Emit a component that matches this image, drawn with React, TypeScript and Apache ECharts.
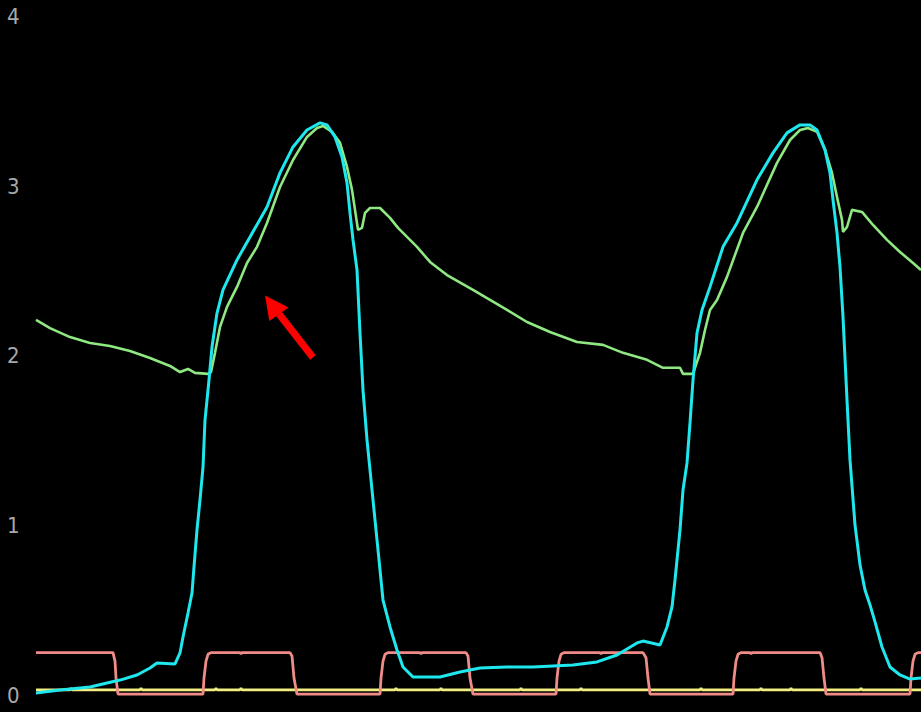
import React, { useEffect, useRef } from "react";
import * as echarts from "echarts";

// x positions are sample indices (time axis), y values in volts
const yTicks = [0, 1, 2, 3, 4];

const greenX = [36, 50, 70, 90, 110, 130, 150, 170, 180, 188, 195, 208, 211, 215, 220, 227, 237, 247, 257, 267, 280, 293, 307, 317, 323, 332, 340, 347, 352, 355, 358, 362, 365, 370, 380, 390, 398, 417, 430, 447, 473, 490, 507, 527, 550, 577, 603, 623, 647, 663, 680, 683, 693, 700, 705, 710, 717, 727, 743, 757, 777, 790, 800, 808, 817, 825, 832, 837, 842, 843, 847, 852, 862, 873, 887, 900, 913, 921];
const greenY = [2.211, 2.163, 2.11, 2.075, 2.058, 2.028, 1.987, 1.94, 1.904, 1.922, 1.899, 1.893, 1.904, 2.017, 2.17, 2.288, 2.406, 2.547, 2.642, 2.783, 2.995, 3.154, 3.29, 3.343, 3.355, 3.32, 3.255, 3.113, 2.978, 2.86, 2.742, 2.754, 2.842, 2.871, 2.871, 2.813, 2.754, 2.642, 2.553, 2.476, 2.388, 2.329, 2.27, 2.199, 2.14, 2.081, 2.064, 2.017, 1.976, 1.929, 1.929, 1.893, 1.893, 2.017, 2.152, 2.27, 2.329, 2.465, 2.724, 2.877, 3.137, 3.272, 3.331, 3.343, 3.32, 3.214, 3.078, 2.936, 2.801, 2.73, 2.759, 2.86, 2.848, 2.771, 2.683, 2.612, 2.547, 2.506];

const cyanX = [36, 60, 90, 107, 120, 137, 150, 157, 175, 180, 183, 188, 192, 194, 197, 200, 203, 205, 209, 212, 217, 223, 237, 250, 267, 280, 293, 307, 320, 327, 335, 342, 347, 350, 353, 357, 360, 363, 367, 372, 377, 383, 390, 397, 403, 413, 440, 460, 480, 507, 533, 553, 573, 597, 617, 637, 643, 660, 667, 672, 675, 680, 683, 687, 690, 693, 697, 702, 710, 723, 737, 757, 773, 787, 800, 810, 817, 825, 830, 833, 837, 840, 843, 847, 850, 855, 860, 865, 870, 875, 882, 890, 900, 910, 921];
const cyanY = [0.012, 0.029, 0.047, 0.071, 0.088, 0.118, 0.159, 0.189, 0.183, 0.248, 0.342, 0.483, 0.601, 0.755, 0.973, 1.15, 1.344, 1.621, 1.857, 2.052, 2.252, 2.388, 2.565, 2.7, 2.877, 3.078, 3.231, 3.331, 3.373, 3.361, 3.29, 3.172, 3.019, 2.842, 2.683, 2.506, 2.134, 1.798, 1.504, 1.209, 0.914, 0.56, 0.401, 0.265, 0.165, 0.106, 0.106, 0.136, 0.159, 0.165, 0.165, 0.171, 0.177, 0.195, 0.236, 0.307, 0.318, 0.295, 0.401, 0.519, 0.678, 0.973, 1.209, 1.368, 1.604, 1.857, 2.134, 2.27, 2.406, 2.642, 2.783, 3.037, 3.196, 3.314, 3.361, 3.361, 3.331, 3.214, 3.078, 2.919, 2.724, 2.524, 2.229, 1.739, 1.386, 1.003, 0.767, 0.619, 0.531, 0.431, 0.283, 0.165, 0.118, 0.094, 0.1];

const salmonX = [36, 60, 85, 113, 115, 116, 118, 203, 204, 206, 208, 211, 240, 241, 242, 290, 292, 294, 297, 380, 381, 383, 385, 388, 420, 421, 422, 466, 468, 470, 473, 556, 557, 559, 561, 564, 600, 601, 602, 643, 646, 648, 650, 733, 734, 736, 738, 741, 750, 751, 752, 820, 822, 824, 826, 910, 911, 913, 915, 918, 921];
const salmonY = [0.25, 0.25, 0.25, 0.25, 0.2, 0.1, 0.005, 0.005, 0.1, 0.2, 0.24, 0.25, 0.25, 0.243, 0.25, 0.25, 0.23, 0.1, 0.005, 0.005, 0.1, 0.2, 0.24, 0.25, 0.25, 0.243, 0.25, 0.25, 0.23, 0.1, 0.005, 0.005, 0.1, 0.2, 0.24, 0.25, 0.25, 0.243, 0.25, 0.25, 0.22, 0.1, 0.005, 0.005, 0.1, 0.2, 0.24, 0.25, 0.25, 0.243, 0.25, 0.25, 0.22, 0.1, 0.005, 0.005, 0.1, 0.2, 0.24, 0.25, 0.25];

const yellowX = [36, 70, 71, 72, 140, 141, 142, 215, 216, 217, 240, 241, 242, 395, 396, 397, 440, 441, 442, 520, 521, 522, 580, 581, 582, 700, 701, 702, 760, 761, 762, 790, 791, 792, 860, 861, 862, 921];
const yellowY = [0.03, 0.03, 0.04, 0.03, 0.03, 0.04, 0.03, 0.03, 0.04, 0.03, 0.03, 0.04, 0.03, 0.03, 0.04, 0.03, 0.03, 0.04, 0.03, 0.03, 0.04, 0.03, 0.03, 0.04, 0.03, 0.03, 0.04, 0.03, 0.03, 0.04, 0.03, 0.03, 0.04, 0.03, 0.03, 0.04, 0.03, 0.03];

const zip = (xs: number[], ys: number[]) => xs.map((x, i) => [x, ys[i]]);

export default function App() {
  const ref = useRef<HTMLDivElement>(null);
  useEffect(() => {
    if (!ref.current) return;
    const chart = echarts.init(ref.current, undefined, { renderer: "svg" });
    const line = (name: string, data: number[][], color: string, width: number) => ({
      name,
      type: "line",
      data,
      showSymbol: false,
      symbol: "none",
      smooth: false,
      lineStyle: { color, width },
      emphasis: { disabled: true },
    });
    chart.setOption({
      animation: false,
      backgroundColor: "#000000",
      grid: { left: 36, right: 0, top: 16.5, bottom: 17 },
      xAxis: {
        type: "value",
        min: 36,
        max: 921,
        show: false,
      },
      yAxis: {
        type: "value",
        min: yTicks[0],
        max: yTicks[yTicks.length - 1],
        interval: 1,
        axisLine: { show: false },
        axisTick: { show: false },
        splitLine: { show: false },
        axisLabel: {
          color: "#a8a8a8",
          fontSize: 22,
          fontFamily: "'Liberation Sans Narrow', 'DejaVu Sans Condensed', sans-serif",
          align: "left",
          margin: 29,
        },
      },
      series: [
        line("yellow", zip(yellowX, yellowY), "#f2ee82", 2.8),
        line("salmon", zip(salmonX, salmonY), "#f08c88", 2.8),
        line("green", zip(greenX, greenY), "#90e882", 2.6),
        line("cyan", zip(cyanX, cyanY), "#1ee8ee", 3),
      ],
      graphic: [
        {
          type: "line",
          shape: { x1: 313, y1: 357.5, x2: 279, y2: 314 },
          style: { stroke: "#ff0000", lineWidth: 7 },
          z: 100,
        },
        {
          type: "polygon",
          shape: { points: [[265, 295.5], [269.3, 321], [288.5, 307.5]] },
          style: { fill: "#ff0000" },
          z: 100,
        },
      ],
    });
    return () => chart.dispose();
  }, []);
  return (
    <div
      ref={ref}
      style={{ position: "absolute", left: 0, top: 0, width: 921, height: 712, background: "#000" }}
    />
  );
}
